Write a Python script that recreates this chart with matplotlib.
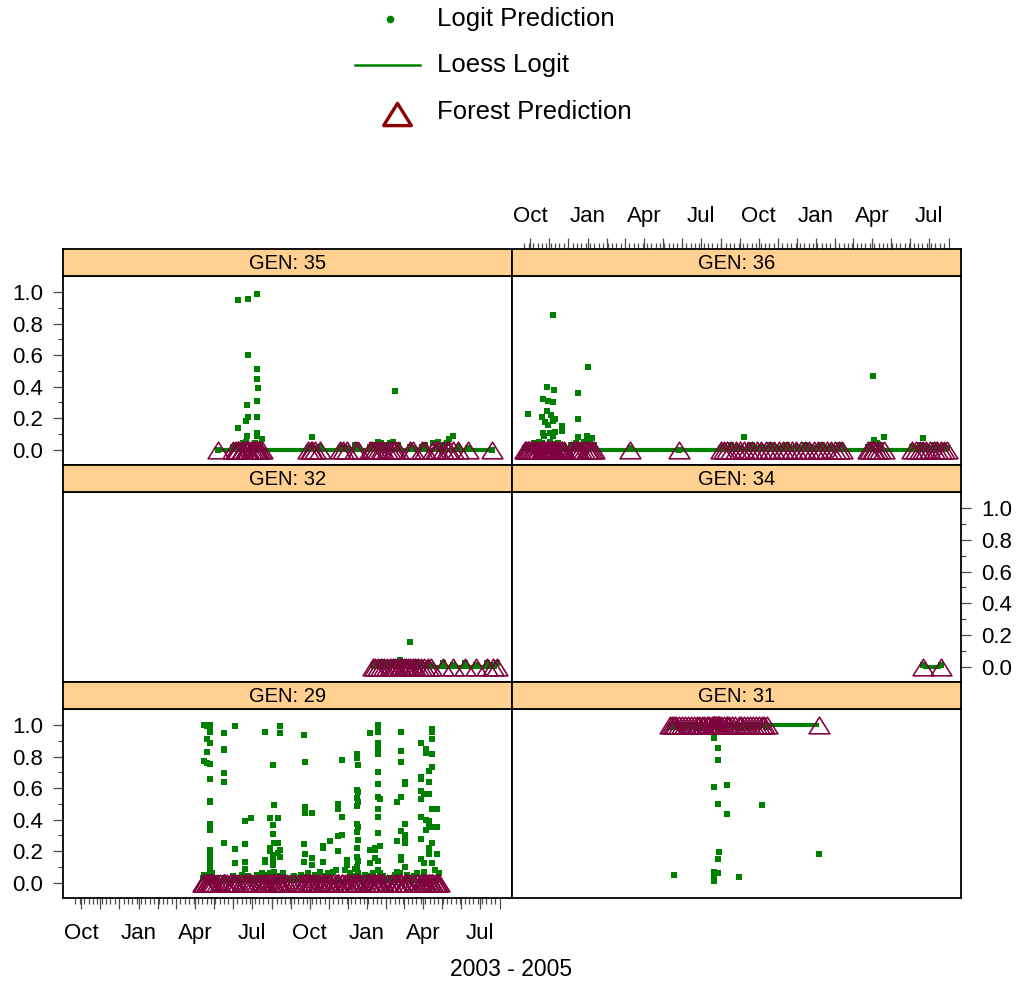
import matplotlib.pyplot as plt
import matplotlib.dates as mdates
from matplotlib.path import Path
from matplotlib.ticker import FixedLocator, FixedFormatter, NullLocator
import numpy as np
import pandas as pd

plt.rcParams['font.family'] = ['Liberation Sans', 'DejaVu Sans']

# ---- data: (date, [logit predictions on that date]) per panel ----
gen35_obs = [
    ('2004-05-08', [0.0]), ('2004-06-01', [0.02]), ('2004-06-05', [0.01]),
    ('2004-06-09', [0.95, 0.14, 0.03]), ('2004-06-14', [0.02]), ('2004-06-17', [0.04]),
    ('2004-06-21', [0.185, 0.05]), ('2004-06-22', [0.285, 0.09]),
    ('2004-06-25', [0.955, 0.60, 0.21]), ('2004-06-29', [0.03]), ('2004-07-02', [0.02]),
    ('2004-07-05', [0.04]), ('2004-07-08', [0.45, 0.085]),
    ('2004-07-09', [0.99, 0.51, 0.31, 0.21, 0.105]), ('2004-07-10', [0.39]),
    ('2004-07-13', [0.03]), ('2004-07-16', [0.07]),
    ('2004-09-29', [0.01]), ('2004-10-03', [0.02]), ('2004-10-05', [0.08]),
    ('2004-10-10', [0.01]), ('2004-10-18', [0.02]),
    ('2004-11-19', [0.01]), ('2004-11-24', [0.02]), ('2004-11-30', [0.01]),
    ('2004-12-13', [0.03]), ('2004-12-17', [0.02]), ('2005-01-05', [0.02]),
    ('2005-01-09', [0.03]), ('2005-01-14', [0.01]), ('2005-01-19', [0.05]),
    ('2005-01-23', [0.04]), ('2005-01-27', [0.02]), ('2005-02-02', [0.03]),
    ('2005-02-07', [0.04]), ('2005-02-12', [0.05]), ('2005-02-15', [0.37]),
    ('2005-02-20', [0.03]), ('2005-03-11', [0.02]), ('2005-03-15', [0.01]),
    ('2005-03-30', [0.02]), ('2005-04-04', [0.03]), ('2005-04-17', [0.04]),
    ('2005-04-22', [0.02]), ('2005-04-25', [0.05]), ('2005-05-03', [0.03]),
    ('2005-05-09', [0.04]), ('2005-05-12', [0.07]), ('2005-05-18', [0.085]),
    ('2005-05-27', [0.02]), ('2005-06-12', [0.01]), ('2005-07-20', [0.0]),
]

gen36_obs = [
    ('2003-09-23', [0.01]), ('2003-09-25', [0.02]), ('2003-09-27', [0.226, 0.02]),
    ('2003-09-30', [0.03]), ('2003-10-03', [0.02]), ('2003-10-05', [0.01]),
    ('2003-10-07', [0.04]), ('2003-10-11', [0.03]), ('2003-10-13', [0.02]),
    ('2003-10-15', [0.05]), ('2003-10-20', [0.207, 0.04]), ('2003-10-21', [0.32, 0.106]),
    ('2003-10-23', [0.085]), ('2003-10-25', [0.173]), ('2003-10-28', [0.40, 0.243]),
    ('2003-10-29', [0.31, 0.154]), ('2003-11-02', [0.106, 0.05]), ('2003-11-04', [0.222]),
    ('2003-11-07', [0.856, 0.30, 0.18, 0.085]), ('2003-11-09', [0.38]),
    ('2003-11-10', [0.197, 0.11]), ('2003-11-14', [0.04]), ('2003-11-18', [0.03]),
    ('2003-11-21', [0.148, 0.116]), ('2003-11-25', [0.02]), ('2003-12-05', [0.03]),
    ('2003-12-10', [0.02]), ('2003-12-14', [0.04]), ('2003-12-17', [0.36, 0.197, 0.08]),
    ('2003-12-21', [0.03]), ('2003-12-26', [0.05]), ('2003-12-31', [0.085]),
    ('2004-01-02', [0.528]), ('2004-01-05', [0.06]), ('2004-01-08', [0.074]),
    ('2004-01-11', [0.03]),
    ('2004-03-09', [0.01]), ('2004-05-27', [0.0]),
    ('2004-08-01', [0.01]), ('2004-08-06', [0.02]), ('2004-08-12', [0.01]),
    ('2004-08-18', [0.03]), ('2004-08-25', [0.02]), ('2004-09-01', [0.01]),
    ('2004-09-08', [0.08]), ('2004-09-14', [0.02]), ('2004-09-20', [0.03]),
    ('2004-09-28', [0.01]), ('2004-10-05', [0.02]), ('2004-10-12', [0.01]),
    ('2004-10-19', [0.03]), ('2004-10-26', [0.02]), ('2004-11-02', [0.01]),
    ('2004-11-09', [0.02]), ('2004-11-16', [0.03]), ('2004-11-23', [0.01]),
    ('2004-11-30', [0.02]), ('2004-12-07', [0.01]), ('2004-12-14', [0.03]),
    ('2004-12-21', [0.02]), ('2004-12-28', [0.01]), ('2005-01-04', [0.02]),
    ('2005-01-11', [0.03]), ('2005-01-18', [0.01]), ('2005-01-25', [0.02]),
    ('2005-02-01', [0.01]), ('2005-02-06', [0.03]), ('2005-02-11', [0.02]),
    ('2005-03-25', [0.02]), ('2005-03-29', [0.03]), ('2005-04-02', [0.469]),
    ('2005-04-04', [0.063]), ('2005-04-08', [0.04]), ('2005-04-14', [0.03]),
    ('2005-04-19', [0.078]), ('2005-06-04', [0.02]), ('2005-06-10', [0.01]),
    ('2005-06-16', [0.03]), ('2005-06-21', [0.074]), ('2005-06-26', [0.02]),
    ('2005-07-02', [0.01]), ('2005-07-08', [0.03]), ('2005-07-14', [0.02]),
    ('2005-07-20', [0.01]), ('2005-07-25', [0.02]), ('2005-07-30', [0.01]),
]

gen32_obs = [
    ('2005-01-10', [0.01]), ('2005-01-14', [0.02]), ('2005-01-19', [0.01]),
    ('2005-01-24', [0.03]), ('2005-01-28', [0.02]), ('2005-02-02', [0.01]),
    ('2005-02-07', [0.02]), ('2005-02-11', [0.03]), ('2005-02-15', [0.01]),
    ('2005-02-18', [0.02]), ('2005-02-22', [0.04]), ('2005-02-25', [0.02]),
    ('2005-03-01', [0.03]), ('2005-03-04', [0.01]), ('2005-03-08', [0.02]),
    ('2005-03-11', [0.154]), ('2005-03-15', [0.02]), ('2005-03-18', [0.03]),
    ('2005-03-23', [0.01]), ('2005-03-28', [0.02]), ('2005-04-02', [0.01]),
    ('2005-04-08', [0.02]), ('2005-04-14', [0.01]), ('2005-05-03', [0.02]),
    ('2005-05-19', [0.01]), ('2005-06-07', [0.02]), ('2005-06-24', [0.01]),
    ('2005-07-12', [0.02]), ('2005-07-22', [0.01]), ('2005-07-28', [0.02]),
]

gen34_obs = [('2005-06-21', [0.01]), ('2005-07-20', [0.01])]

gen29_obs = [
    ('2004-04-13', [0.03]), ('2004-04-15', [1.0, 0.775, 0.05]),
    ('2004-04-19', [0.995, 0.91, 0.83, 0.76, 0.02]),
    ('2004-04-24', [1.0, 0.985, 0.955, 0.89, 0.755, 0.66, 0.52, 0.51, 0.375, 0.335,
                    0.21, 0.19, 0.155, 0.135, 0.10, 0.08, 0.04]),
    ('2004-04-27', [0.06, 0.03]), ('2004-05-01', [0.02]), ('2004-05-06', [0.03]),
    ('2004-05-11', [0.01]), ('2004-05-17', [0.95, 0.85, 0.84, 0.695, 0.64, 0.255, 0.03]),
    ('2004-05-22', [0.02]), ('2004-05-27', [0.01]), ('2004-05-31', [0.04]),
    ('2004-06-04', [0.995, 0.215, 0.125, 0.02]), ('2004-06-09', [0.03]),
    ('2004-06-14', [0.05]), ('2004-06-20', [0.39, 0.245, 0.13, 0.09]),
    ('2004-06-25', [0.04]), ('2004-06-29', [0.41, 0.03]), ('2004-07-04', [0.02]),
    ('2004-07-09', [0.05]), ('2004-07-14', [0.03]), ('2004-07-17', [0.06]),
    ('2004-07-21', [0.96, 0.145, 0.13]), ('2004-07-25', [0.05]),
    ('2004-07-29', [0.41, 0.22, 0.20, 0.06]),
    ('2004-08-03', [0.745, 0.365, 0.31, 0.175, 0.145, 0.115]),
    ('2004-08-05', [0.495, 0.25, 0.07]), ('2004-08-09', [0.04]),
    ('2004-08-12', [0.41, 0.25, 0.19]), ('2004-08-15', [0.995, 0.95, 0.21, 0.165]),
    ('2004-08-19', [0.06]), ('2004-08-24', [0.03]), ('2004-08-30', [0.02]),
    ('2004-09-06', [0.04]), ('2004-09-12', [0.03]), ('2004-09-17', [0.05]),
    ('2004-09-22', [0.935, 0.245, 0.13]), ('2004-09-24', [0.765, 0.48, 0.455, 0.44, 0.18]),
    ('2004-09-28', [0.06]), ('2004-10-01', [0.03]), ('2004-10-05', [0.445, 0.155, 0.115]),
    ('2004-10-09', [0.05]), ('2004-10-14', [0.02]), ('2004-10-18', [0.07]),
    ('2004-10-22', [0.235, 0.22, 0.13]), ('2004-10-26', [0.04]), ('2004-10-30', [0.06]),
    ('2004-11-03', [0.265, 0.05]), ('2004-11-08', [0.07]), ('2004-11-12', [0.08]),
    ('2004-11-16', [0.50, 0.47, 0.295, 0.20]), ('2004-11-22', [0.78, 0.415, 0.30]),
    ('2004-11-26', [0.08]), ('2004-11-30', [0.145, 0.115]), ('2004-12-04', [0.06]),
    ('2004-12-08', [0.04]), ('2004-12-12', [0.09]),
    ('2004-12-15', [0.82, 0.79, 0.59, 0.535, 0.49, 0.37, 0.325, 0.22, 0.165, 0.10]),
    ('2004-12-17', [0.745, 0.575, 0.51, 0.355, 0.27, 0.135, 0.06]),
    ('2004-12-22', [0.03]), ('2004-12-28', [0.05]), ('2005-01-02', [0.04]),
    ('2005-01-06', [0.95, 0.21, 0.125]), ('2005-01-10', [0.06]),
    ('2005-01-14', [0.22, 0.205, 0.155]),
    ('2005-01-19', [1.0, 0.985, 0.955, 0.89, 0.85, 0.82, 0.70, 0.625, 0.545, 0.47,
                    0.415, 0.315, 0.135, 0.08]),
    ('2005-01-22', [0.53, 0.23, 0.06]), ('2005-01-27', [0.04]), ('2005-02-02', [0.02]),
    ('2005-02-08', [0.03]), ('2005-02-14', [0.05]), ('2005-02-18', [0.51, 0.265, 0.07]),
    ('2005-02-22', [0.06]), ('2005-02-25', [0.955, 0.835, 0.765, 0.545, 0.33, 0.165, 0.145]),
    ('2005-03-02', [0.64, 0.625, 0.375, 0.30, 0.275, 0.25, 0.10]),
    ('2005-03-06', [0.05]), ('2005-03-11', [0.02]), ('2005-03-17', [0.04]),
    ('2005-03-22', [0.06]), ('2005-03-28', [0.885, 0.67, 0.66, 0.58, 0.53, 0.42, 0.275, 0.15]),
    ('2005-04-02', [0.565, 0.125, 0.07]), ('2005-04-05', [0.85, 0.825, 0.40, 0.335]),
    ('2005-04-10', [0.71, 0.64, 0.565, 0.395, 0.37, 0.22, 0.18]),
    ('2005-04-15', [0.975, 0.955, 0.91, 0.82, 0.735, 0.47, 0.355, 0.255, 0.125]),
    ('2005-04-19', [0.08]), ('2005-04-23', [0.47, 0.355, 0.18]), ('2005-04-26', [0.06]),
]

gen31_obs = [
    ('2004-05-12', [0.99]), ('2004-05-16', [1.0]), ('2004-05-18', [0.052]),
    ('2004-05-22', [0.99]), ('2004-05-27', [1.0]), ('2004-06-01', [0.98]),
    ('2004-06-05', [1.0]), ('2004-06-10', [0.99]), ('2004-06-15', [1.0]),
    ('2004-06-19', [0.99]), ('2004-06-24', [1.0]), ('2004-06-28', [0.98]),
    ('2004-07-02', [1.0]), ('2004-07-06', [0.99]), ('2004-07-10', [1.0]),
    ('2004-07-14', [0.99]), ('2004-07-18', [1.0]),
    ('2004-07-21', [0.93, 0.918, 0.07, 0.04]), ('2004-07-22', [0.607, 0.025, 0.01]),
    ('2004-07-25', [0.99]), ('2004-07-28', [0.855, 0.78, 0.502, 0.149, 0.06]),
    ('2004-07-29', [0.193]), ('2004-08-02', [1.0]), ('2004-08-06', [0.99]),
    ('2004-08-11', [0.622, 0.439]), ('2004-08-15', [1.0]), ('2004-08-19', [0.99]),
    ('2004-08-24', [1.0]), ('2004-08-30', [0.036]), ('2004-09-03', [0.99]),
    ('2004-09-08', [1.0]), ('2004-09-12', [0.98]), ('2004-09-17', [1.0]),
    ('2004-09-22', [0.99]), ('2004-09-27', [1.0]), ('2004-10-01', [0.99]),
    ('2004-10-06', [0.491]), ('2004-10-10', [1.0]), ('2004-10-14', [0.99]),
    ('2005-01-05', [0.185]),
]

panel_titles = ['GEN: 35', 'GEN: 36', 'GEN: 32', 'GEN: 34', 'GEN: 29', 'GEN: 31']
panel_obs = [gen35_obs, gen36_obs, gen32_obs, gen34_obs, gen29_obs, gen31_obs]
forest_pred = [0, 0, 0, 0, 0, 1]          # forest prediction for every observation in panel
loess_dates = [('2004-05-08', '2005-07-20'), ('2003-09-23', '2005-07-30'),
               ('2005-01-07', '2005-07-28'), ('2005-06-21', '2005-07-20'),
               ('2004-04-15', '2005-04-26'), ('2004-05-10', '2005-01-05')]
loess_values = [(0.0, 0.0), (0.0, 0.0), (0.0, 0.0), (0.0, 0.0), (0.01, 0.01), (1.0, 1.0)]

# ---- styling ----
W, H = 1020, 983
GREEN = '#008000'
TRI_COL = '#800040'
STRIP = '#ffd08f'
tri = Path([(0, 0.8), (-1, -0.8), (1, -0.8), (0, 0.8)],
           [Path.MOVETO, Path.LINETO, Path.LINETO, Path.CLOSEPOLY])

fig = plt.figure(figsize=(W / 100, H / 100), dpi=100)


def box(x0, y0, x1, y1):
    return [x0 / W, 1 - y1 / H, (x1 - x0) / W, (y1 - y0) / H]


col_x = [(63, 512), (512, 961)]
row_y = [(249, 276, 465), (465, 492, 682), (682, 709, 898)]
xlim = (pd.Timestamp('2003-09-02'), pd.Timestamp('2005-08-21'))
ylim = (-0.097, 1.103)

months = pd.date_range('2003-10-01', '2005-08-01', freq='MS')
weeks = pd.date_range('2003-09-22', '2005-07-31', freq='7D')
month_labels = [m.strftime('%b') if m.month in (1, 4, 7, 10) else '' for m in months]


def date_ticks(axis):
    axis.set_major_locator(FixedLocator(mdates.date2num(months)))
    axis.set_major_formatter(FixedFormatter(month_labels))
    axis.set_minor_locator(FixedLocator(mdates.date2num(weeks)))


for i, (title, obs) in enumerate(zip(panel_titles, panel_obs)):
    row, col = divmod(i, 2)
    cx0, cx1 = col_x[col]
    stop, ptop, pbot = row_y[row]
    ax = fig.add_axes(box(cx0, ptop, cx1, pbot))
    sax = fig.add_axes(box(cx0, stop, cx1, ptop))

    dates, vals = [], []
    for d, v in obs:
        dates += [d] * len(v)
        vals += v
    dates = pd.to_datetime(dates)
    vals = np.array(vals)

    ax.plot(dates, vals, 's', color=GREEN, ms=4.1, mew=0, zorder=2)
    ax.plot(pd.to_datetime(list(loess_dates[i])), loess_values[i], color=GREEN,
            lw=3, solid_capstyle='butt', zorder=3)
    ax.plot(dates, np.full(len(vals), forest_pred[i]), ls='none', marker=tri,
            ms=15, mfc='none', mec=TRI_COL, mew=1.15, zorder=4)

    ax.set_xlim(xlim)
    ax.set_ylim(ylim)
    for sp in ax.spines.values():
        sp.set_linewidth(1.3)

    # y axis: alternating left / right
    ax.yaxis.set_major_locator(FixedLocator([0, 0.2, 0.4, 0.6, 0.8, 1.0]))
    ax.yaxis.set_minor_locator(FixedLocator([0.1, 0.3, 0.5, 0.7, 0.9]))
    ax.tick_params(axis='y', which='major', length=7.5, width=0.9, color='#4d4d4d',
                   labelsize=16, pad=7)
    ax.tick_params(axis='y', which='minor', length=3.8, width=0.9, color='#4d4d4d')
    if row in (0, 2) and col == 0:
        ax.tick_params(axis='y', which='both', left=True, right=False,
                       labelleft=True, labelright=False)
    elif row == 1 and col == 1:
        ax.tick_params(axis='y', which='both', left=False, right=True,
                       labelleft=False, labelright=True)
    else:
        ax.tick_params(axis='y', which='both', left=False, right=False,
                       labelleft=False, labelright=False)

    # x axis
    if row == 2 and col == 0:
        date_ticks(ax.xaxis)
        ax.tick_params(axis='x', which='major', length=8, width=0.9, color='#4d4d4d',
                       labelsize=16, pad=10)
        ax.tick_params(axis='x', which='minor', length=4, width=0.9, color='#4d4d4d')
    else:
        ax.xaxis.set_major_locator(NullLocator())
        ax.xaxis.set_minor_locator(NullLocator())

    # strip
    sax.set_facecolor(STRIP)
    sax.set_xlim(xlim)
    sax.set_ylim(0, 1)
    sax.yaxis.set_major_locator(NullLocator())
    for sp in sax.spines.values():
        sp.set_linewidth(1.3)
    sax.text(0.5, 0.48, title, transform=sax.transAxes, ha='center', va='center',
             fontsize=14.5)
    if row == 0 and col == 1:
        date_ticks(sax.xaxis)
        sax.tick_params(axis='x', which='both', top=True, bottom=False,
                        labeltop=True, labelbottom=False)
        sax.tick_params(axis='x', which='major', length=8, width=0.9, color='#4d4d4d',
                        labelsize=16, pad=8)
        sax.tick_params(axis='x', which='minor', length=4, width=0.9, color='#4d4d4d')
    else:
        sax.xaxis.set_major_locator(NullLocator())
        sax.xaxis.set_minor_locator(NullLocator())

fig.text(511 / W, 1 - 970 / H, '2003 - 2005', ha='center', va='center', fontsize=16.5)

# legend
lax = fig.add_axes([0, 0, 1, 1])
lax.set_xlim(0, W)
lax.set_ylim(H, 0)
lax.axis('off')
lax.plot(390, 19, 'o', color=GREEN, ms=5.5, mew=0)
lax.plot([355, 420], [65, 65], color=GREEN, lw=1.8)
lax.plot(397, 114, ls='none', marker=tri, ms=20, mfc='none', mec='#8b0000', mew=2.4)
for y, txt in [(19, 'Logit Prediction'), (65, 'Loess Logit'), (112, 'Forest Prediction')]:
    lax.text(437, y, txt, ha='left', va='center', fontsize=18.5)

fig.savefig('out.png', dpi=100)
